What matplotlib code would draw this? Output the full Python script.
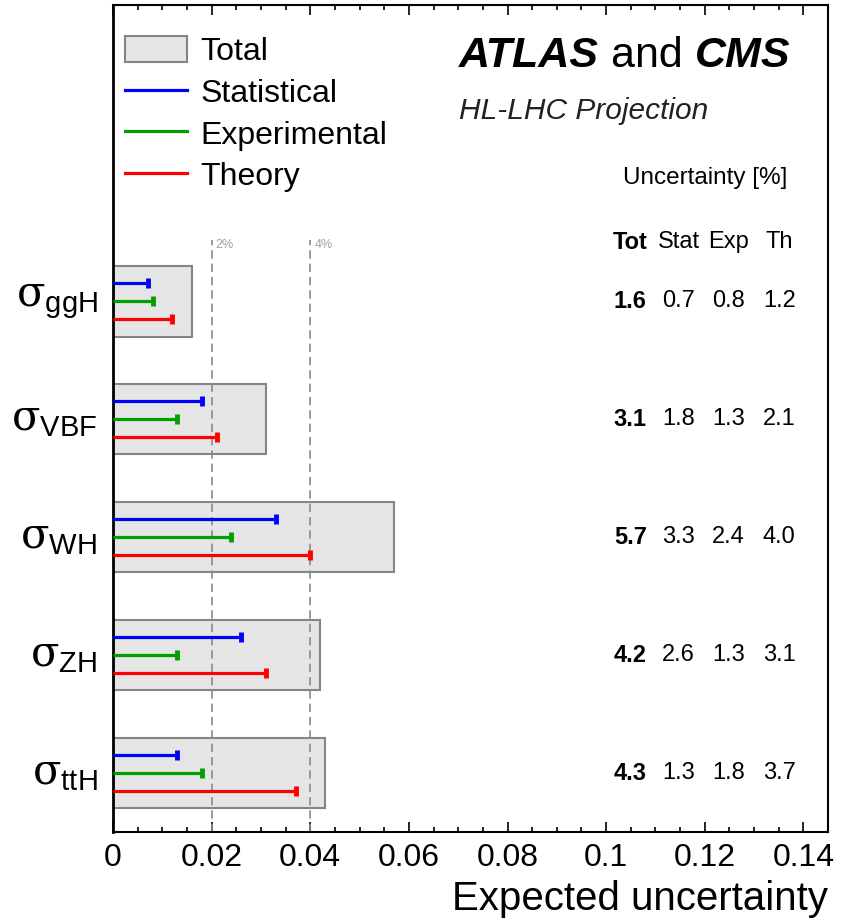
import matplotlib
matplotlib.use('Agg')
import matplotlib.pyplot as plt
import matplotlib.transforms as mtransforms
from matplotlib.patches import Patch
from matplotlib.lines import Line2D

plt.rcParams['font.family'] = ['Liberation Sans', 'DejaVu Sans']
plt.rcParams['mathtext.fontset'] = 'custom'
plt.rcParams['mathtext.rm'] = 'DejaVu Serif'
plt.rcParams['mathtext.sf'] = 'Liberation Sans'

# cross sections, top to bottom
procs = ['ggH', 'VBF', 'WH', 'ZH', 'ttH']
tot = [1.6, 3.1, 5.7, 4.2, 4.3]
stat = [0.7, 1.8, 3.3, 2.6, 1.3]
exp = [0.8, 1.3, 2.4, 1.3, 1.8]
th = [1.2, 2.1, 4.0, 3.1, 3.7]
ypos = [4, 3, 2, 1, 0]

fig = plt.figure(figsize=(8.44, 9.21), dpi=100)
ax = fig.add_axes([0.134, 0.0966, 0.847, 0.898])

# total boxes
ax.barh(ypos, [t / 100 for t in tot], height=0.6, left=0, color='#e5e5e5',
        edgecolor='#858585', linewidth=1.5, zorder=1)

# reference lines at 2% and 4%
for xv, lab in [(0.02, '2%'), (0.04, '4%')]:
    ax.plot([xv, xv], [-0.5, 4.52], color='#8a8a8a', ls=(0, (5, 3)), lw=1.2, zorder=2)
    ax.text(xv + 0.0008, 4.53, lab, color='#a0a0a0', fontsize=9, ha='left', va='top')

# components
comps = [(stat, 'blue', 0.155), (exp, '#00a000', 0.0), (th, 'red', -0.155)]
for vals, col, off in comps:
    for y, v in zip(ypos, vals):
        ax.plot([0, v / 100], [y + off, y + off], color=col, lw=2.3, zorder=3,
                solid_capstyle='butt')
        ax.plot([v / 100], [y + off], marker='|', color=col, ms=6.5, mew=3.5, zorder=3)

# y labels
trans = mtransforms.blended_transform_factory(ax.transAxes, ax.transData)
for y, p in zip(ypos, procs):
    ax.text(-0.022, y, r'$\mathrm{\sigma}_{\mathsf{' + p + '}}$', transform=trans,
            ha='right', va='center', fontsize=30)

# table
cols_x = [0.1049, 0.1147, 0.1248, 0.1351]
heads = ['Tot', 'Stat', 'Exp', 'Th']
for cx, h in zip(cols_x, heads):
    ax.text(cx, 4.5, h, ha='center', va='center', fontsize=17,
            fontweight='bold' if h == 'Tot' else 'normal')
for i, y in enumerate(ypos):
    row = [tot[i], stat[i], exp[i], th[i]]
    for j, (cx, v) in enumerate(zip(cols_x, row)):
        ax.text(cx, y, '%.1f' % v, ha='center', va='center', fontsize=17,
                fontweight='bold' if j == 0 else 'normal')

ax.text(0.9427, 0.7836, 'Uncertainty [%]', transform=ax.transAxes, ha='right',
        va='baseline', fontsize=17.5)
t1 = ax.text(0.484, 0.925, 'ATLAS', transform=ax.transAxes, ha='left', va='baseline',
             fontsize=31, fontweight='bold', fontstyle='italic')
t2 = ax.annotate(' and ', xy=(1, 0), xycoords=t1, ha='left', va='bottom', fontsize=31)
ax.annotate('CMS', xy=(1, 0), xycoords=t2, ha='left', va='bottom', fontsize=31,
            fontweight='bold', fontstyle='italic')
ax.text(0.484, 0.862, 'HL-LHC Projection', transform=ax.transAxes, ha='left',
        va='baseline', fontsize=21.5, fontstyle='italic', color='#222222')

# legend
handles = [Patch(facecolor='#e5e5e5', edgecolor='#858585', linewidth=1.5),
           Line2D([], [], color='blue', lw=2.3),
           Line2D([], [], color='#00a000', lw=2.3),
           Line2D([], [], color='red', lw=2.3)]
ax.legend(handles, ['Total', 'Statistical', 'Experimental', 'Theory'],
          loc='upper left', bbox_to_anchor=(-0.014, 0.99), frameon=False, fontsize=23,
          handlelength=1.92, handleheight=0.9, handletextpad=0.42, labelspacing=0.33,
          borderaxespad=0.3)

ax.set_xlim(0, 0.145)
ax.set_ylim(-0.5, 6.51)
ax.set_yticks([])
ax.set_xticks([0, 0.02, 0.04, 0.06, 0.08, 0.1, 0.12, 0.14])
ax.set_xticklabels(['0', '0.02', '0.04', '0.06', '0.08', '0.1', '0.12', '0.14'])
ax.set_xticks([i * 0.005 for i in range(29)], minor=True)
ax.tick_params(axis='x', which='both', direction='in', top=True, labelsize=23,
               width=1.2, pad=8)
ax.tick_params(axis='x', which='major', length=7)
ax.tick_params(axis='x', which='minor', length=3.6)
for s in ax.spines.values():
    s.set_linewidth(1.5)
ax.spines['left'].set_linewidth(2)

ax.set_xlabel('Expected uncertainty', fontsize=29, loc='right', labelpad=5)

fig.savefig('out.png', dpi=100)
